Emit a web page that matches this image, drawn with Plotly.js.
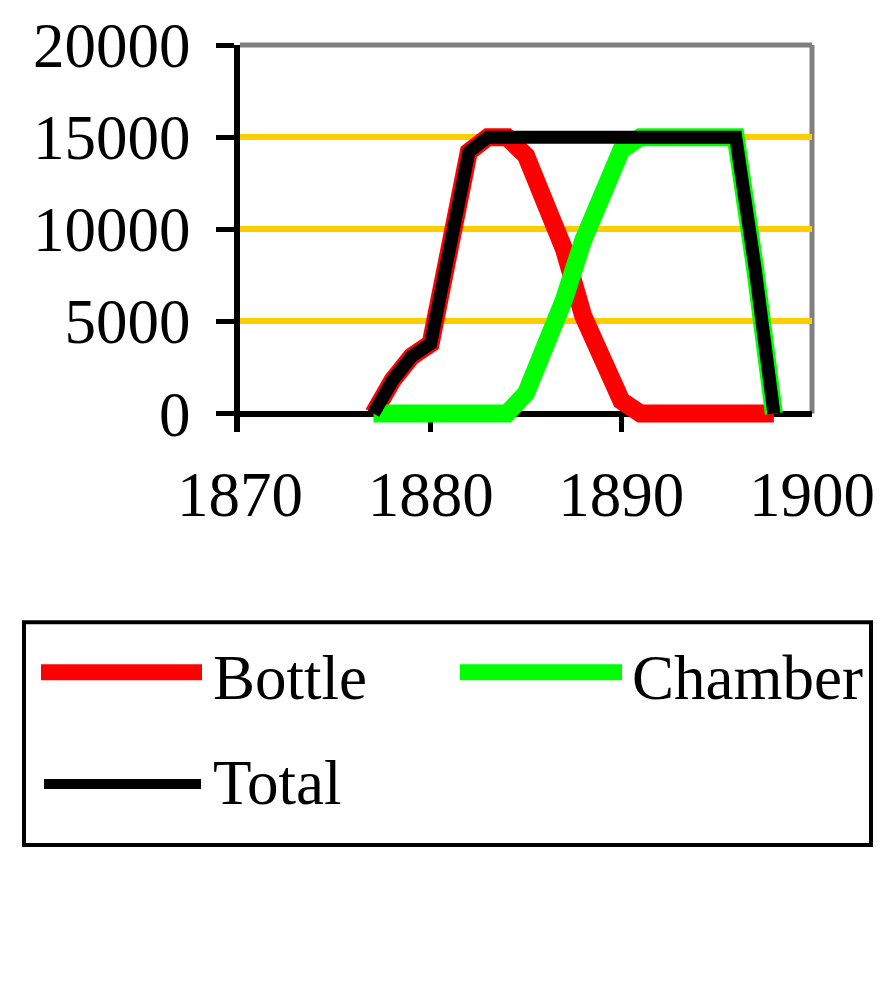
<!DOCTYPE html>
<html>
<head>
<meta charset="utf-8">
<script src="https://cdn.plot.ly/plotly-3.0.1.min.js"></script>
<style>
  html, body { margin: 0; padding: 0; background: #ffffff; }
  #chart { width: 888px; height: 1008px; }
</style>
</head>
<body>
<div id="chart"></div>
<script>
// ---- data ----
const years = [1877, 1878, 1879, 1880, 1881, 1882, 1883, 1884, 1885, 1886, 1887,
               1888, 1889, 1890, 1891, 1892, 1893, 1894, 1895, 1896, 1897, 1898];
const bottle = [0, 1800, 3100, 3800, 9000, 14200, 15000, 15000, 14000, 11500, 8900,
                5300, 2800, 700, 0, 0, 0, 0, 0, 0, 0, 0];
const chamber = [0, 0, 0, 0, 0, 0, 0, 0, 1100, 3600, 6200,
                 9400, 12200, 14300, 15000, 15000, 15000, 15000, 15000, 15000, 8000, 0];
const total = [0, 1800, 3100, 3800, 9000, 14200, 15000, 15000, 15000, 15000, 15000,
               15000, 15000, 15000, 15000, 15000, 15000, 15000, 15000, 15000, 8000, 0];
const seriesNames = ['Bottle', 'Chamber', 'Total'];
const xTickVals = [1870, 1880, 1890, 1900];
const yTickVals = [0, 5000, 10000, 15000, 20000];

// ---- styles ----
const colors = { Bottle: '#ff0000', Chamber: '#00ff00', Total: '#000000' };
const widths = { Bottle: 18, Chamber: 18, Total: 13 };
const FONT = '"Liberation Serif", "Times New Roman", serif';

const seriesData = { Bottle: bottle, Chamber: chamber, Total: total };
const traces = seriesNames.map(name => ({
  type: 'scatter', mode: 'lines', name: name,
  x: years, y: seriesData[name],
  line: { color: colors[name], width: widths[name] },
  hoverinfo: 'skip', showlegend: false
}));

// plot-area geometry in pixels
const W = 888, H = 1008;
const M = { l: 240, r: 76, t: 45, b: 575.5 };
const plotW = W - M.l - M.r, plotH = H - M.t - M.b;
const px = v => (v - M.l) / plotW;          // pixel x -> paper x
const py = v => (H - M.b - v) / plotH;      // pixel y -> paper y

const shapes = [
  // grey top and right frame
  { type: 'line', xref: 'paper', yref: 'paper', x0: 0, x1: 1, y0: 1, y1: 1,
    line: { color: '#808080', width: 5 }, layer: 'below' },
  { type: 'line', xref: 'paper', yref: 'paper', x0: 1, x1: 1, y0: py(414), y1: 1,
    line: { color: '#808080', width: 5 }, layer: 'below' },
  // legend box
  { type: 'rect', xref: 'paper', yref: 'paper', x0: px(24), x1: px(871), y0: py(846), y1: py(623),
    line: { color: '#000000', width: 4 }, fillcolor: 'rgba(0,0,0,0)' }
];
const legendPos = {
  Bottle:  { lx0: 41, lx1: 202, ly: 673, tx: 211, ty: 679 },
  Chamber: { lx0: 460, lx1: 622, ly: 673, tx: 630, ty: 679 },
  Total:   { lx0: 44, lx1: 201, ly: 785, tx: 211, ty: 784 }
};
const annotations = [];
seriesNames.forEach(name => {
  const p = legendPos[name];
  shapes.push({ type: 'line', xref: 'paper', yref: 'paper',
    x0: px(p.lx0), x1: px(p.lx1), y0: py(p.ly), y1: py(p.ly),
    line: { color: colors[name], width: name === 'Total' ? 10 : 16 } });
  annotations.push({ xref: 'paper', yref: 'paper', x: px(p.tx), y: py(p.ty),
    xanchor: 'left', yanchor: 'middle', showarrow: false, text: name,
    font: { family: FONT, size: 63, color: '#000000' } });
});

const layout = {
  width: W, height: H,
  margin: M,
  paper_bgcolor: '#ffffff', plot_bgcolor: '#ffffff',
  showlegend: false,
  font: { family: FONT, size: 63, color: '#000000' },
  xaxis: {
    range: [1870, 1900], tickvals: xTickVals, ticktext: xTickVals.map(String),
    showgrid: false, zeroline: false, showline: false,
    ticks: 'inside', ticklen: 19, tickwidth: 5, tickcolor: '#000000',
    ticklabelstandoff: 20, layer: 'below traces',
    tickfont: { family: FONT, size: 63, color: '#000000' }
  },
  yaxis: {
    range: [-1000, 20000], tickvals: yTickVals, ticktext: yTickVals.map(String),
    showgrid: true, gridcolor: '#ffcc00', gridwidth: 6,
    zeroline: true, zerolinecolor: '#000000', zerolinewidth: 6,
    showline: true, linecolor: '#000000', linewidth: 6,
    ticks: 'outside', ticklen: 18, tickwidth: 5, tickcolor: '#000000',
    ticklabelstandoff: 13, layer: 'below traces',
    tickfont: { family: FONT, size: 63, color: '#000000' }
  },
  shapes: shapes,
  annotations: annotations
};

Plotly.newPlot('chart', traces, layout, { displayModeBar: false, staticPlot: true });
</script>
</body>
</html>
